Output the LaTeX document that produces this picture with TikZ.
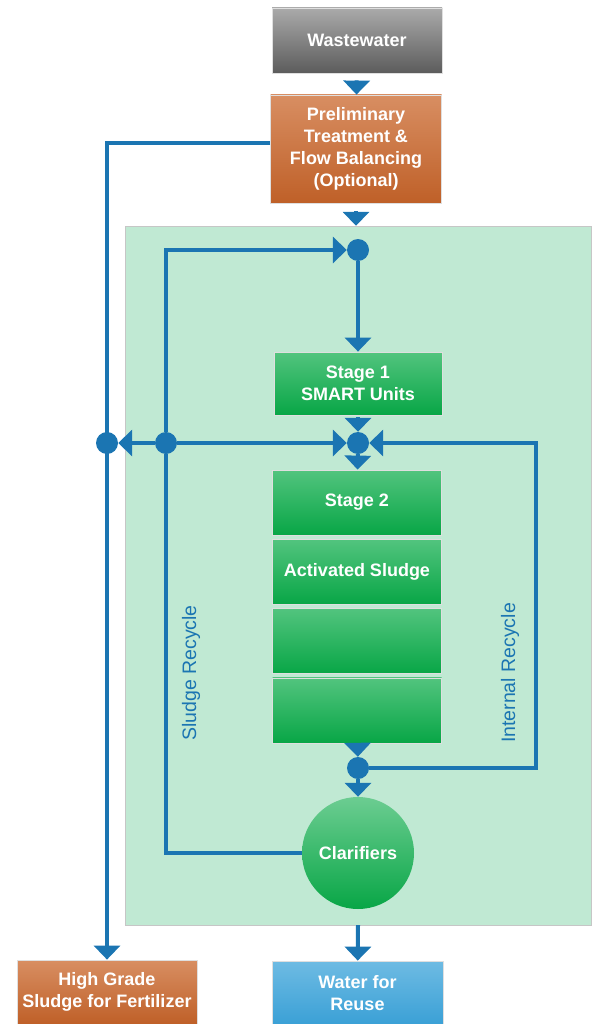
\documentclass[tikz,border=0pt]{standalone}
\usepackage{fontspec}
\setmainfont{Liberation Sans}
\usetikzlibrary{positioning,arrows.meta}

\definecolor{flowblue}{RGB}{27,117,178}
\definecolor{areagreen}{RGB}{192,233,211}
\definecolor{greentop}{RGB}{82,196,126}
\definecolor{greenbot}{RGB}{8,166,70}
\definecolor{graytop}{RGB}{170,170,170}
\definecolor{graybot}{RGB}{92,92,92}
\definecolor{orangetop}{RGB}{216,142,98}
\definecolor{orangebot}{RGB}{191,96,40}
\definecolor{bluetop}{RGB}{110,187,227}
\definecolor{bluebot}{RGB}{58,160,214}

\begin{document}
\begin{tikzpicture}[x=1pt,y=-1pt,
    box/.style={rectangle, draw=gray!25, line width=0.8pt, text=white,
      align=center, inner sep=0pt,
      font=\bfseries\fontsize{18}{22}\selectfont},
    green box/.style={box, top color=greentop, bottom color=greenbot,
      minimum width=169pt, minimum height=65pt},
    orange box/.style={box, top color=orangetop, bottom color=orangebot},
    junction/.style={circle, fill=flowblue, inner sep=0pt, minimum size=22pt},
    pipe/.style={line width=4pt, flowblue},
    flow/.style={pipe, -{Triangle[width=26pt,length=14pt]}},
    side label/.style={rotate=90, text=flowblue,
      font=\fontsize{19.5}{22}\selectfont}]
  \useasboundingbox (0,0) rectangle (592,1024);

  % plant area
  \node (plant) [draw=gray!45, fill=areagreen, inner sep=0pt,
    minimum width=466pt, minimum height=699pt] at (358,575.5) {};

  % boxes
  \node (wastewater) [box, top color=graytop, bottom color=graybot,
    minimum width=170pt, minimum height=65pt] at (357,40.5) {Wastewater};
  \node (pretreat) [orange box, minimum width=171pt, minimum height=108pt]
    at (356,149) {Preliminary\\Treatment \&\\Flow Balancing\\(Optional)};

  \node (top junction) [junction] at (358,250) {};
  \node (stage one) [green box, minimum width=168pt, minimum height=63pt]
    at (358,383.5) {Stage 1\\SMART Units};
  \node (mid junction) [junction] at (358,443) {};

  \node (stage two) [green box] at (357,502.5) {Stage 2};
  \node (act sludge) [green box, below=3.5pt of stage two] {Activated Sludge};
  \node (blank one) [green box, below=3.5pt of act sludge] {};
  \node (blank two) [green box, below=3.5pt of blank one] {};

  \node (low junction) [junction] at (358,768) {};
  \node (clarifiers) [circle, top color=greentop!85!white, bottom color=greenbot,
    text=white, inner sep=0pt, minimum size=112pt,
    font=\bfseries\fontsize{18}{22}\selectfont] at (358,853) {Clarifiers};

  \node (sludge junction) [junction] at (166,443) {};
  \node (waste junction) [junction] at (107,443) {};
  \coordinate (internal corner) at (536,768);

  \node (fertilizer) [orange box, minimum width=180pt, minimum height=64pt]
    at (107,992) {High Grade\\Sludge for Fertilizer};
  \node (reuse) [box, top color=bluetop, bottom color=bluebot,
    minimum width=171pt, minimum height=64pt]
    at (357.5,993) {Water for\\Reuse};

  % main flow
  \draw [flow, shorten <=7pt] (wastewater) -- (pretreat);
  \draw [flow, shorten <=8pt] (pretreat.south) -- (pretreat.south |- plant.north);
  \draw [flow] (top junction) -- (stage one);
  \draw [flow, shorten <=2pt] (stage one) -- (mid junction);
  \draw [flow] (mid junction) -- (stage two);
  \draw [flow] (blank two) -- (low junction);
  \draw [flow] (low junction) -- (clarifiers);
  \draw [flow] (plant.south -| clarifiers) -- (reuse);

  % sludge
  \draw [flow] ([yshift=6pt]pretreat.west) -| (fertilizer.north);
  \draw [pipe] (clarifiers) -| (sludge junction);
  \draw [flow] (sludge junction) |- (top junction);
  \draw [flow] (sludge junction) -- (mid junction);
  \draw [flow] (sludge junction) -- (waste junction);

  % internal recycle
  \draw [flow] (low junction) -- (internal corner) |- (mid junction);

  \node (sludge label) [side label] at (191,673) {Sludge Recycle};
  \node (internal label) [side label] at (510,673) {Internal Recycle};
\end{tikzpicture}
\end{document}
